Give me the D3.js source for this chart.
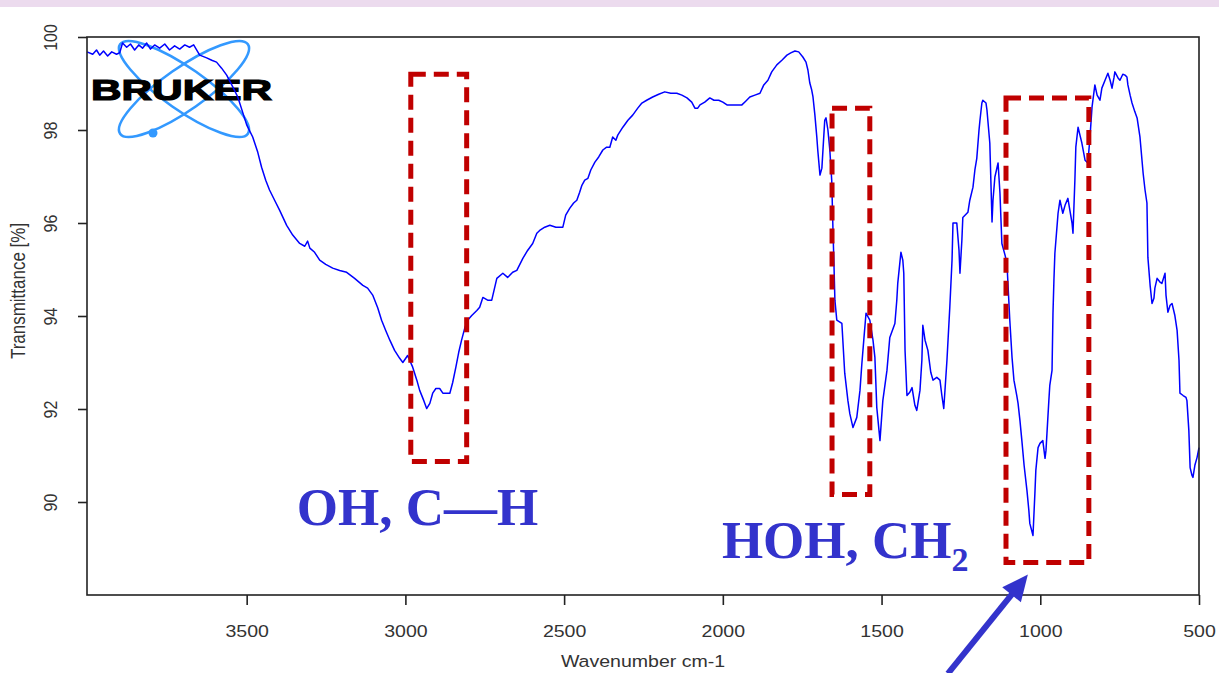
<!DOCTYPE html>
<html>
<head>
<meta charset="utf-8">
<script src="https://cdn.jsdelivr.net/npm/d3@7/dist/d3.min.js"></script>
<style>
  html, body { margin: 0; padding: 0; background: #ffffff; }
  svg { display: block; }
</style>
</head>
<body>
<script>
// ---------- DATA ----------
const wavenumbers = [4003,3985,3973,3963,3951,3938,3925,3910,3900,3891,3878,3866,3853,3840,3828,3815,3803,3790,3774,3758,3743,3727,3711,3695,3680,3667,3648,3626,3610,3595,3579,3563,3547,3528,3513,3500,3481,3465,3453,3440,3428,3412,3396,3374,3355,3333,3317,3308,3301,3286,3270,3251,3229,3207,3185,3160,3134,3119,3103,3087,3075,3062,3049,3034,3018,3008,2993,2977,2964,2955,2942,2933,2923,2914,2904,2892,2882,2870,2860,2851,2841,2832,2823,2813,2804,2791,2775,2766,2756,2741,2728,2712,2693,2678,2662,2649,2630,2615,2599,2586,2577,2561,2545,2526,2504,2495,2482,2470,2460,2451,2444,2435,2425,2416,2403,2391,2378,2366,2356,2347,2337,2331,2315,2299,2284,2268,2255,2240,2221,2202,2183,2164,2145,2129,2113,2098,2088,2079,2072,2057,2041,2028,2013,2000,1987,1962,1940,1928,1915,1899,1883,1871,1858,1846,1830,1814,1798,1786,1773,1761,1748,1738,1732,1726,1720,1716,1710,1704,1701,1694,1688,1679,1675,1669,1663,1657,1653,1650,1647,1641,1625,1616,1606,1600,1590,1578,1568,1562,1556,1549,1537,1527,1521,1515,1505,1496,1483,1474,1458,1452,1449,1439,1433,1430,1426,1420,1411,1404,1395,1389,1379,1373,1370,1363,1354,1345,1338,1326,1316,1310,1304,1294,1285,1278,1275,1263,1256,1253,1247,1244,1228,1222,1212,1206,1200,1193,1190,1184,1181,1171,1168,1159,1152,1149,1143,1133,1127,1121,1111,1105,1096,1089,1083,1074,1070,1064,1058,1051,1042,1036,1033,1023,1017,1014,1007,1001,992,985,982,979,973,970,963,960,957,954,947,944,938,929,922,913,907,900,897,891,888,881,875,869,859,850,843,837,828,821,812,806,796,787,780,774,768,765,755,749,740,733,727,724,717,711,702,695,686,676,670,664,661,654,648,642,639,632,623,617,607,604,598,591,585,576,569,563,560,550,541,538,532,528,522,519,513,506,500];

const transmittance = [99.68,99.63,99.72,99.61,99.70,99.59,99.68,99.63,99.66,99.87,99.78,99.85,99.72,99.83,99.76,99.87,99.74,99.83,99.76,99.85,99.72,99.81,99.74,99.83,99.78,99.83,99.61,99.55,99.50,99.46,99.33,99.18,98.97,98.71,98.39,98.11,97.85,97.52,97.20,96.92,96.71,96.49,96.27,95.95,95.74,95.56,95.50,95.61,95.46,95.37,95.20,95.11,95.03,94.98,94.94,94.81,94.66,94.60,94.45,94.17,93.91,93.69,93.48,93.26,93.09,93.00,93.15,92.90,92.62,92.40,92.18,92.01,92.12,92.34,92.44,92.44,92.34,92.34,92.34,92.57,92.90,93.22,93.48,93.74,93.91,94.01,94.12,94.19,94.40,94.34,94.34,94.81,94.92,94.83,94.94,94.98,95.24,95.41,95.56,95.78,95.84,95.91,95.95,95.91,95.91,96.17,96.32,96.43,96.49,96.66,96.81,96.92,96.96,97.14,97.31,97.42,97.57,97.63,97.63,97.85,97.78,97.89,98.06,98.21,98.32,98.47,98.58,98.64,98.71,98.77,98.82,98.79,98.79,98.75,98.69,98.60,98.47,98.47,98.54,98.60,98.69,98.64,98.64,98.60,98.54,98.54,98.54,98.62,98.71,98.75,98.79,98.97,99.07,99.25,99.40,99.50,99.61,99.66,99.70,99.68,99.57,99.46,99.29,99.01,98.86,98.71,98.32,97.85,97.57,97.03,97.18,98.21,98.26,98.00,97.57,96.92,95.84,95.13,94.34,93.91,93.84,92.77,92.18,91.90,91.60,91.82,92.40,92.98,93.48,94.06,93.91,93.48,93.11,92.03,91.32,92.18,92.83,93.54,93.84,94.34,94.70,95.37,95.20,94.92,93.26,92.29,92.36,92.46,92.08,91.97,92.40,93.05,93.80,93.48,93.26,92.79,92.62,92.68,92.62,92.29,92.01,93.05,94.19,95.20,96.00,96.00,95.41,94.92,95.63,96.12,96.23,96.49,96.77,97.14,97.39,98.00,98.21,98.58,98.64,98.58,98.43,97.72,96.02,96.49,96.99,97.29,96.64,95.56,95.31,95.13,93.91,93.11,92.62,92.29,92.12,91.75,91.32,90.79,90.25,89.82,89.54,89.28,90.18,90.68,91.17,91.26,91.32,90.94,91.11,91.47,92.18,92.51,92.83,94.06,94.77,95.35,95.95,96.21,96.49,96.21,96.38,96.53,96.28,96.00,95.78,96.92,97.63,98.06,97.89,97.72,97.35,97.29,97.89,98.49,98.97,98.75,98.64,98.90,99.07,99.22,99.07,98.90,99.12,99.25,99.12,99.07,99.20,99.18,99.14,98.97,98.75,98.58,98.39,98.26,97.85,97.07,96.71,96.43,95.26,94.66,94.27,94.38,94.60,94.81,94.73,94.70,94.92,94.45,94.08,94.23,94.27,94.01,93.69,93.05,92.34,92.29,92.25,92.18,91.54,90.74,90.57,90.53,90.79,90.96,91.17];

const xTickValues = [3500, 3000, 2500, 2000, 1500, 1000, 500];
const yTickValues = [90, 92, 94, 96, 98, 100];

// highlight boxes: [wnLeft, wnRight, Ttop, Tbottom]
const boxWnLeft   = [2983, 1656, 1108];
const boxWnRight  = [2807, 1537, 847];
const boxTTop     = [99.20, 98.47, 98.69];
const boxTBottom  = [90.87, 90.16, 88.70];

// annotation labels
const labelMain = ["OH, C\u2014H", "HOH, CH"];
const labelSub  = ["", "2"];
const labelWn   = [3342, 2003];
const labelT    = [89.515, 88.80];

// arrow (tail outside plot, tip under the 1000 box)
const arrowFrom = [1291, 86.31];
const arrowTo   = [1039, 88.44];

// ---------- LAYOUT ----------
const W = 1219, H = 673;
const mLeft = 87, mRight = 1199, mTop = 37, mBottom = 595;

const svg = d3.select("body").append("svg")
  .attr("width", W).attr("height", H);

// top pink band
svg.append("rect").attr("x", 0).attr("y", 0).attr("width", W).attr("height", 7)
  .attr("fill", "#ecdbee");

const x = d3.scaleLinear().domain([4003, 500]).range([mLeft, mRight]);
const y = d3.scaleLinear().domain([88, 100]).range([mBottom, mTop]);

// ---------- BRUKER logo ----------
const logo = svg.append("g");
const lcx = 184, lcy = 89;
[35, -35].forEach(a => {
  logo.append("ellipse")
    .attr("cx", lcx).attr("cy", lcy).attr("rx", 78).attr("ry", 21)
    .attr("transform", `rotate(${a},${lcx},${lcy})`)
    .attr("fill", "none").attr("stroke", "#3399ff").attr("stroke-width", 2.6);
});
logo.append("circle").attr("cx", 153).attr("cy", 133).attr("r", 4.5).attr("fill", "#3399ff");
logo.append("text")
  .attr("x", 91).attr("y", 100)
  .attr("textLength", 181).attr("lengthAdjust", "spacingAndGlyphs")
  .style("font-family", "'Liberation Sans', Arial, sans-serif")
  .style("font-weight", 900).style("font-size", "29px")
  .attr("fill", "#000").attr("stroke", "#000").attr("stroke-width", 1.2)
  .text("BRUKER");

// ---------- spectrum ----------
const pts = wavenumbers.map((w, i) => [w, transmittance[i]]);
svg.append("path")
  .datum(pts)
  .attr("fill", "none")
  .attr("stroke", "#0000ff")
  .attr("stroke-width", 1.5)
  .attr("stroke-linejoin", "round")
  .attr("d", d3.line().x(d => x(d[0])).y(d => y(d[1])));

// ---------- frame & axes ----------
const axisColor = "#222";
svg.append("rect")
  .attr("x", mLeft).attr("y", mTop).attr("width", mRight - mLeft).attr("height", mBottom - mTop)
  .attr("fill", "none").attr("stroke", axisColor).attr("stroke-width", 1.6);

const xAxis = svg.append("g").attr("transform", `translate(0,${mBottom})`)
  .call(d3.axisBottom(x).tickValues(xTickValues).tickSize(10).tickSizeOuter(0).tickFormat(d3.format("d")));
xAxis.select(".domain").remove();
xAxis.selectAll(".tick line").attr("stroke", axisColor).attr("stroke-width", 1.6);
xAxis.selectAll(".tick text")
  .attr("y", 0).attr("dy", 0)
  .attr("transform", "translate(0,42) scale(1.15,1)")
  .attr("fill", "#333")
  .style("font-family", "'Liberation Sans', Arial, sans-serif")
  .style("font-size", "17px");

const yAxis = svg.append("g").attr("transform", `translate(${mLeft},0)`)
  .call(d3.axisLeft(y).tickValues(yTickValues).tickSize(9).tickSizeOuter(0).tickFormat(d3.format("d")));
yAxis.select(".domain").remove();
yAxis.selectAll(".tick line").attr("stroke", axisColor).attr("stroke-width", 1.6);
yAxis.selectAll(".tick text")
  .attr("x", 0).attr("dy", 0)
  .attr("text-anchor", "middle")
  .attr("transform", "translate(-30,0) scale(1.15,1) rotate(-90)")
  .attr("fill", "#333")
  .style("font-family", "'Liberation Sans', Arial, sans-serif")
  .style("font-size", "16px");

// axis titles
svg.append("text")
  .attr("x", 0).attr("y", 0)
  .attr("text-anchor", "middle")
  .attr("fill", "#333")
  .style("font-family", "'Liberation Sans', Arial, sans-serif")
  .style("font-size", "17px")
  .attr("transform", "translate(643,667) scale(1.15,1)")
  .text("Wavenumber cm-1");

svg.append("text")
  .attr("transform", "translate(25,291) scale(1.15,1) rotate(-90)")
  .attr("text-anchor", "middle")
  .attr("fill", "#333")
  .style("font-family", "'Liberation Sans', Arial, sans-serif")
  .style("font-size", "17px")
  .text("Transmittance [%]");

// ---------- highlight boxes ----------
boxWnLeft.forEach((wl, i) => {
  const x0 = x(wl), x1 = x(boxWnRight[i]);
  const y0 = y(boxTTop[i]), y1 = y(boxTBottom[i]);
  svg.append("rect")
    .attr("x", x0).attr("y", y0).attr("width", x1 - x0).attr("height", y1 - y0)
    .attr("fill", "none").attr("stroke", "#c00000").attr("stroke-width", 5)
    .attr("stroke-dasharray", "15,8");
});

// ---------- annotation labels ----------
labelMain.forEach((t, i) => {
  const txt = svg.append("text")
    .attr("x", x(labelWn[i])).attr("y", y(labelT[i]))
    .attr("fill", "#3333cc")
    .style("font-family", "'Liberation Serif', 'Times New Roman', serif")
    .style("font-weight", "bold")
    .style("font-size", "53px")
    .text(t);
  if (labelSub[i]) {
    txt.append("tspan")
      .attr("dy", 13)
      .style("font-size", "34px")
      .text(labelSub[i]);
  }
});

// ---------- arrow ----------
const ax0 = x(arrowFrom[0]), ay0 = y(arrowFrom[1]);
const ax1 = x(arrowTo[0]), ay1 = y(arrowTo[1]);
const ddx = ax1 - ax0, ddy = ay1 - ay0, len = Math.hypot(ddx, ddy);
const ux = ddx / len, uy = ddy / len;
const headLen = 26, headHalf = 12;
const bx = ax1 - ux * headLen, by = ay1 - uy * headLen;
svg.append("line")
  .attr("x1", ax0).attr("y1", ay0).attr("x2", bx + ux * 2).attr("y2", by + uy * 2)
  .attr("stroke", "#3333cc").attr("stroke-width", 6);
svg.append("path")
  .attr("d", `M${ax1},${ay1} L${bx - uy * headHalf},${by + ux * headHalf} L${bx + uy * headHalf},${by - ux * headHalf} Z`)
  .attr("fill", "#3333cc");
</script>
</body>
</html>
